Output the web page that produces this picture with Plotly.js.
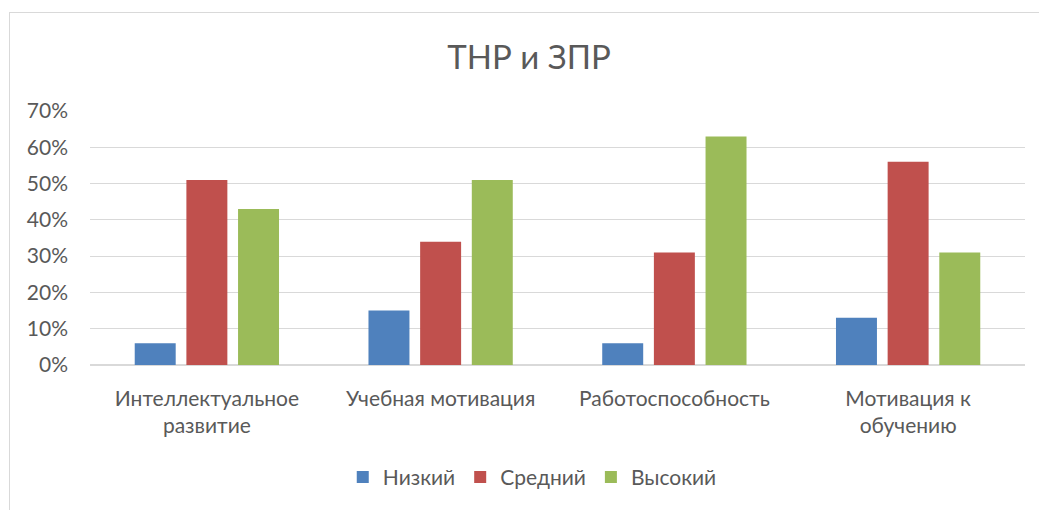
<!DOCTYPE html>
<html>
<head>
<meta charset="utf-8">
<script src="https://cdn.plot.ly/plotly-3.0.1.min.js"></script>
<style>
  html, body { margin: 0; padding: 0; background: #fff; }
  #wrap { position: relative; width: 1039px; height: 510px; overflow: hidden; }
  #chart { width: 1039px; height: 510px; }
  #frame { position: absolute; left: 9px; top: 12px; width: 1100px; height: 600px;
           border: 1px solid #D9D9D9; pointer-events: none; box-sizing: border-box; }
</style>
</head>
<body>
<div id="wrap">
  <div id="chart"></div>
  <div id="frame"></div>
</div>
<script>
const categories = [
  "Интеллектуальное<br>развитие",
  "Учебная мотивация",
  "Работоспособность",
  "Мотивация к<br>обучению"
];
const seriesNames = ["Низкий", "Средний", "Высокий"];
const low = [0.06, 0.15, 0.06, 0.13];
const mid = [0.51, 0.34, 0.31, 0.56];
const high = [0.43, 0.51, 0.63, 0.31];
const colors = ["#4F81BD", "#C0504D", "#9BBB59"];
const titleText = "ТНР и ЗПР";

const FONT = "Lato, 'Open Sans', sans-serif";
const TXT = "#595959";

const values = [low, mid, high];
const traces = values.map((v, i) => ({
  type: "bar",
  name: seriesNames[i],
  x: categories,
  y: v,
  marker: { color: colors[i] },
  hoverinfo: "none"
}));

const layout = {
  width: 1039,
  height: 510,
  paper_bgcolor: "rgba(0,0,0,0)",
  plot_bgcolor: "#fff",
  margin: { l: 90, r: 14, t: 111, b: 142.5 },
  barmode: "group",
  bargap: 0.337,
  bargroupgap: 0.207,
  title: {
    text: titleText,
    font: { family: FONT, size: 33, color: TXT },
    x: 529 / 1039, xanchor: "center",
    y: 1 - 57 / 510, yanchor: "middle", yref: "container"
  },
  xaxis: {
    type: "category",
    showgrid: false,
    showline: false,
    ticks: "",
    tickfont: { family: FONT, size: 21, color: TXT },
    ticklabelstandoff: 19
  },
  yaxis: {
    range: [0, 0.7],
    dtick: 0.1,
    tick0: 0,
    tickformat: ".0%",
    showgrid: true,
    gridcolor: "#D9D9D9",
    gridwidth: 1,
    zeroline: true,
    zerolinecolor: "#D9D9D9",
    zerolinewidth: 1.5,
    showline: false,
    ticks: "",
    tickfont: { family: FONT, size: 21, color: TXT },
    ticklabelstandoff: 21
  },
  showlegend: true,
  legend: {
    orientation: "h",
    x: 0.473, xanchor: "center",
    y: (367.5 - 481) / 256.5, yanchor: "middle",
    font: { family: FONT, size: 21, color: TXT },
    itemwidth: 30,
    traceorder: "normal"
  }
};

Plotly.newPlot("chart", traces, layout, { displayModeBar: false, staticPlot: true });
</script>
</body>
</html>
